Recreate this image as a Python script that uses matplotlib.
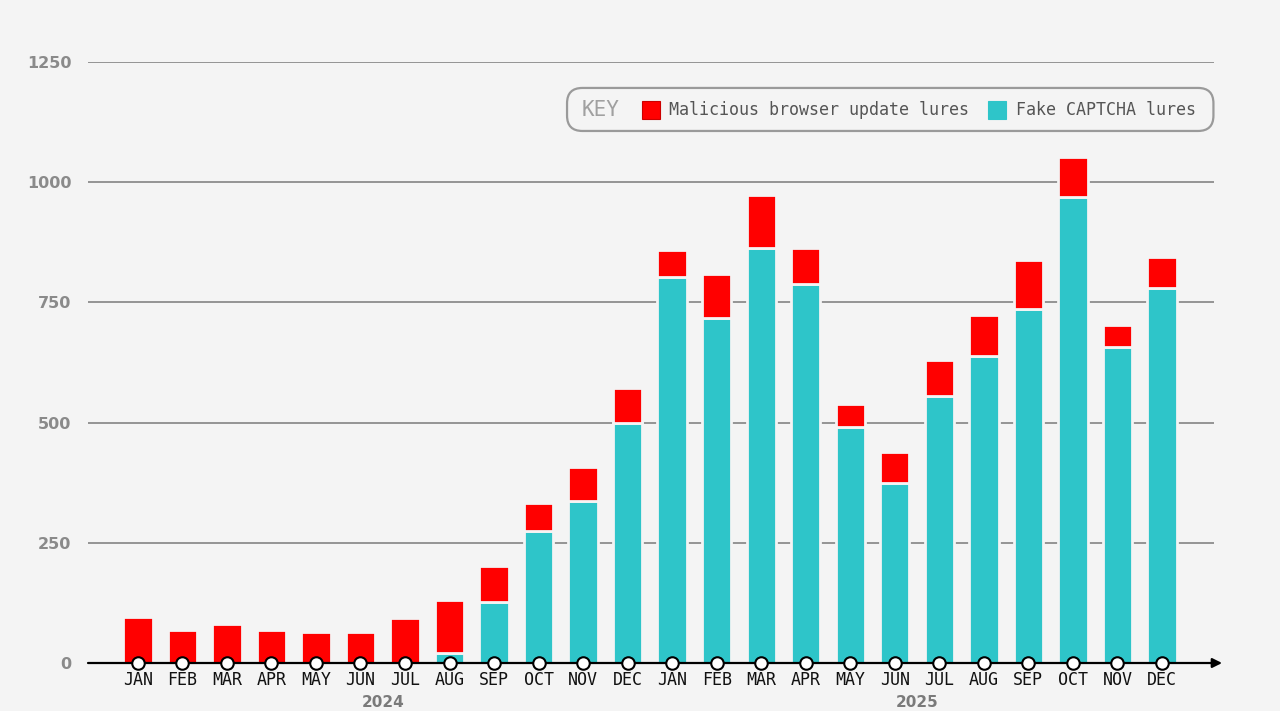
import matplotlib
matplotlib.use("Agg")
from matplotlib import pyplot as plt
from matplotlib.patches import FancyBboxPatch, Rectangle
import numpy as np

# monthly lure counts, Jan 2024 .. Dec 2025
MONTHS = ["JAN", "FEB", "MAR", "APR", "MAY", "JUN",
          "JUL", "AUG", "SEP", "OCT", "NOV", "DEC"] * 2
YEARS = ["2024", "2025"]
CAPTCHA = [0, 0, 0, 0, 0, 0, 0, 21, 127, 275, 337, 499,
           803, 718, 863, 788, 491, 374, 555, 638, 736, 969, 657, 780]
BROWSER = [96, 69, 81, 69, 64, 64, 94, 110, 75, 58, 71, 73,
           56, 91, 110, 75, 48, 65, 75, 86, 102, 83, 46, 64]
Y_TICKS = [0, 250, 500, 750, 1000, 1250]

BG = "#f4f4f4"
RED = "#ff0000"
CYAN = "#2ec5c9"
MONO = "DejaVu Sans Mono"


def main():
    fig = plt.figure(figsize=(12.8, 7.11), dpi=100, facecolor=BG)
    ax = fig.add_axes([0.06875, 0.0675, 0.8797, 0.8453])
    ax.set_facecolor(BG)

    x = np.arange(len(MONTHS))
    captcha = np.array(CAPTCHA)
    browser = np.array(BROWSER)

    # grid lines behind the bars
    for t in Y_TICKS[1:]:
        ax.axhline(t, color="#8c8c8c", lw=1.3, zorder=0)

    ax.bar(x, captcha, width=0.66, color=CYAN, edgecolor=BG, linewidth=2, zorder=2)
    ax.bar(x, browser, width=0.66, bottom=captcha, color=RED, edgecolor=BG, linewidth=2, zorder=2)

    ax.set_xlim(-1.12, 24.17)
    ax.set_ylim(0, 1250)

    # x axis with arrow and hollow markers
    ax.annotate("", xy=(24.35, 0), xytext=(-1.12, 0), xycoords="data",
                arrowprops=dict(arrowstyle="-|>", color="black", lw=1.6,
                                mutation_scale=14, shrinkA=0, shrinkB=0),
                annotation_clip=False, zorder=3)
    ax.plot(x, np.zeros_like(x), "o", ms=9, mfc="white", mec="black", mew=1.5,
            zorder=4, clip_on=False)

    for side in ax.spines.values():
        side.set_visible(False)
    ax.tick_params(length=0)
    ax.set_xticks(x)
    ax.set_xticklabels(MONTHS, fontfamily=MONO, fontsize=12, color="#111111")
    ax.tick_params(axis="x", pad=6)
    ax.set_yticks(Y_TICKS)
    ax.set_yticklabels([str(t) for t in Y_TICKS], fontfamily="DejaVu Sans",
                       fontweight="bold", fontsize=11.5, color="#8a8a8a")
    ax.tick_params(axis="y", pad=12)

    # year labels at the bottom edge
    for i, year in enumerate(YEARS):
        cx = (x[i * 12] + x[i * 12 + 11]) / 2
        fig.text(ax.transData.transform((cx, 0))[0] / fig.bbox.width, 0.002, year,
                 ha="center", va="bottom", fontfamily="DejaVu Sans",
                 fontweight="bold", fontsize=11, color="#7a7a7a")

    # key box
    fig.patches.append(FancyBboxPatch((0.443, 0.8158), 0.505, 0.0605,
                                      boxstyle="round,pad=0,rounding_size=0.012",
                                      transform=fig.transFigure, facecolor=BG,
                                      edgecolor="#9a9a9a", lw=1.6, mutation_aspect=1.8))
    ky = 0.8455
    fig.text(0.4547, ky, "KEY", fontfamily=MONO, fontsize=15, color="#a0a0a0",
             ha="left", va="center")
    fig.patches.append(Rectangle((0.5016, ky - 0.0127), 0.0141, 0.0253,
                                 transform=fig.transFigure, facecolor=RED,
                                 edgecolor="#cc0000", lw=0.8))
    fig.text(0.5227, ky, "Malicious browser update lures", fontfamily=MONO,
             fontsize=12, color="#555555", ha="left", va="center")
    fig.patches.append(Rectangle((0.7719, ky - 0.0127), 0.0141, 0.0253,
                                 transform=fig.transFigure, facecolor=CYAN,
                                 edgecolor=CYAN, lw=0.8))
    fig.text(0.7937, ky, "Fake CAPTCHA lures", fontfamily=MONO,
             fontsize=12, color="#555555", ha="left", va="center")

    fig.savefig("out.png", dpi=100, facecolor=BG)


if __name__ == "__main__":
    main()
